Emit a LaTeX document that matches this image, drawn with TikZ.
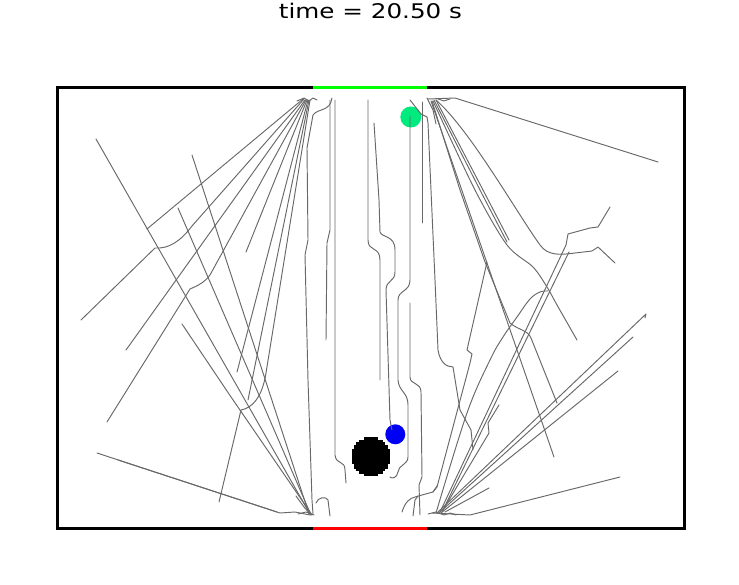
\documentclass[tikz,border=0pt]{standalone}
\usepackage{fontspec}
\setmainfont{DejaVu Sans}
\definecolor{trajc}{RGB}{104,104,104}
\definecolor{mint}{RGB}{0,235,125}
\definecolor{agentblue}{RGB}{0,0,245}
\begin{document}
\begin{tikzpicture}[x=1pt,y=-1pt,
  traj/.style={draw=trajc, line width=0.95pt, line join=round, line cap=round},
  frame/.style={line width=3pt},
  agent/.style={circle, inner sep=0pt, minimum size=21pt}]
\useasboundingbox (0,0) rectangle (739,585);
% title
\node[anchor=base, font=\fontsize{20.2}{24}\selectfont] (title) at (370.5,19) {\scalebox{1.22}[1]{time = 20.50 s}};
% agents
\node[agent, fill=mint] (green) at (410.8,117) {};
\node[agent, fill=agentblue, minimum size=20pt] (blue) at (395.3,434.3) {};
% pixelated obstacle
\foreach \i in {-8,...,7} {
  \pgfmathsetmacro{\hw}{2.4*round(sqrt(19.2*19.2-((\i+0.5)*2.4)^2)/2.4)}
  \fill[black] (370.8-\hw,456.7+\i*2.4-0.05) rectangle (370.8+\hw,456.7+\i*2.4+2.45);
}
% ---- left top fan ----
\draw[traj] (303,99) -- (147,229);
\draw[traj] (304,99) -- (192,226) .. controls (180,242) and (168,249) .. (155,248) -- (81,320);
\draw[traj] (305,100) -- (126,350);
\draw[traj] (306,100) -- (210,275) .. controls (204,283) and (197,286) .. (190,289) -- (107,422);
\draw[traj] (307,100) -- (246,252);
\draw[traj] (308,100) -- (237,372);
\draw[traj] (309,100) -- (248,400);
\draw[traj] (310,100) -- (266,373) .. controls (262,398) and (252,408) .. (241,410) -- (219,502);
\draw[traj] (297,101) -- (304,98) -- (309,101) -- (313,98) -- (317,100);
% ---- lines into bottom-left apex ----
\draw[traj] (96,139) -- (310,514);
\draw[traj] (178,208) -- (311,515);
\draw[traj] (192,155) -- (309,514);
\draw[traj] (182,324) -- (229,394) -- (312,515);
\draw[traj] (97,453) -- (280,513) -- (295,512) -- (310,515);
\draw[traj] (118,460) -- (277,512);
\draw[traj] (296,496) -- (304,507) -- (311,515);
\draw[traj] (298,514) -- (306,512) -- (314,515);
% ---- central lanes ----
\draw[traj] (332,98) .. controls (330,112) and (318,108) .. (313,115) -- (307,148) -- (308,240) -- (305,255) -- (308,380) -- (312,500) -- (313,514);
\draw[traj] (316,503) .. controls (318,497) and (326,496) .. (328,500) -- (330,516);
\draw[traj] (330,100) -- (330,230) -- (327,243) -- (326,340);
\draw[traj] (335,100) -- (335,455) .. controls (336,465) and (345,460) .. (345,470) -- (346,483);
\draw[traj] (368,100) -- (368,240) .. controls (368,252) and (380,246) .. (380,260) -- (380,380);
\draw[traj] (374,123) -- (379,200) -- (380,232) .. controls (382,238) and (395,235) .. (395,250) -- (395,272) .. controls (395,282) and (386,280) .. (386,290) -- (390,420) -- (392,430);
\draw[traj] (410,116) -- (410,280) .. controls (410,292) and (398,290) .. (398,300) -- (398,380) .. controls (399,392) and (408,392) .. (408,405) -- (408,457) .. controls (408,465) and (398,465) .. (398,472) .. controls (397,478) and (392,479) .. (390,477);
\draw[traj] (410,303) -- (410,377) .. controls (410,385) and (421,382) .. (421,392) -- (422,477) -- (419,485) -- (420,515);
\draw[traj] (422,102) -- (422,223);
\draw[traj] (410,100) -- (421,114) -- (427,117) -- (428,123) -- (435,280) -- (438,350) .. controls (440,362) and (446,367) .. (453,367) -- (460,410) -- (471,430) -- (473,450);
% ---- right top fan ----
\draw[traj] (428,99) -- (455,98) -- (658,162);
\draw[traj] (427,98) -- (433,110) -- (436,124);
\draw[traj] (436,100) .. controls (470,130) and (515,210) .. (540,245) .. controls (548,256) and (560,255) .. (575,253) -- (592,251) -- (598,247) -- (615,263);
\draw[traj] (434,100) -- (480,190) -- (507,242);
\draw[traj] (436,100) -- (483,190) -- (509,240);
\draw[traj] plot[smooth, tension=0.5] coordinates {(433,101) (475,190) (507,245) (533,267) (547,287) (557,305) (577,340)};
\draw[traj] (432,101) -- (460,190) -- (485,262) -- (510,323) .. controls (518,330) and (528,330) .. (531,338) -- (557,403);
\draw[traj] (431,101) -- (554,457);
\draw[traj] (438,99) -- (444,101) -- (450,99);
% ---- right bottom fan ----
\draw[traj] (610,207) -- (598,227) -- (590,228) -- (568,234) -- (566,245) -- (440,512);
\draw[traj] (569,252) -- (442,512);
\draw[traj] plot[smooth, tension=0.6] coordinates {(436,513) (467,413) (490,360) (503,337) (517,317) (530,299) (540,292) (548,291)};
\draw[traj] (437,513) -- (646,314) -- (645,318);
\draw[traj] (439,513) -- (633,337);
\draw[traj] (441,513) -- (618,371);
\draw[traj] (445,512) -- (489,488);
\draw[traj] (432,513) -- (470,515) -- (620,477);
\draw[traj] (443,510) -- (489,433) -- (488,423) -- (499,405);
\draw[traj] (487,262) -- (467,350) -- (472,354) -- (470,363) -- (437,487) -- (433,492);
\draw[traj] (402,512) .. controls (405,502) and (410,498) .. (415,497) -- (422,495) -- (433,492) -- (437,486);
\draw[traj] (413,516) -- (415,500) -- (418,496);
\draw[traj] (428,514) -- (436,512) -- (444,515) -- (450,513) -- (456,515);
% ---- frame and doors ----
\draw[frame] (57.5,87.5) rectangle (684.3,528.3);
\draw[frame, draw={rgb,255:red,0;green,255;blue,0}] (313.3,87.5) -- (426.7,87.5);
\draw[frame, draw=red] (313.3,528.3) -- (426.7,528.3);
\end{tikzpicture}
\end{document}
